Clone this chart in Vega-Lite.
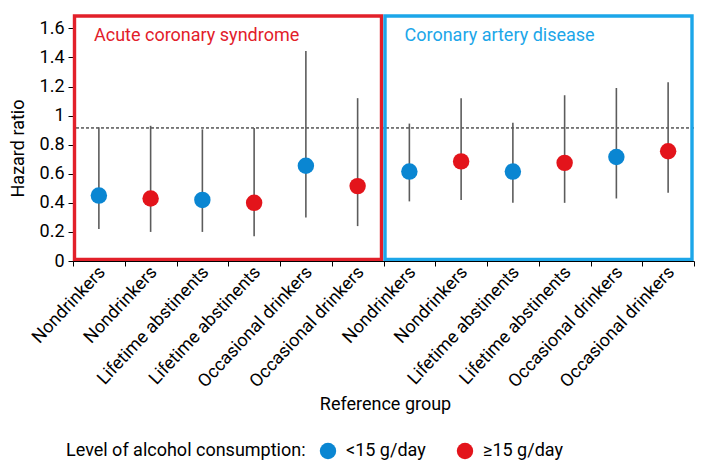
{
  "$schema": "https://vega.github.io/schema/vega-lite/v6.json",
  "width": 621,
  "height": 245,
  "autosize": {"type": "none"},
  "padding": {"left": 73, "top": 16, "right": 9, "bottom": 202},
  "config": {
    "font": "Roboto",
    "view": {"stroke": null},
    "axis": {
      "grid": false,
      "domainColor": "#000000",
      "tickColor": "#000000",
      "labelColor": "#000000",
      "titleColor": "#000000",
      "titleFontWeight": "normal",
      "labelFontSize": 18,
      "titleFontSize": 18
    },
    "legend": {
      "labelColor": "#000000",
      "titleColor": "#000000",
      "titleFontWeight": "normal"
    }
  },
  "datasets": {
    "estimates": [
      {"key": "ACS|Nondrinkers|1", "panel": "Acute coronary syndrome", "level": "<15 g/day", "hr": 0.45, "lo": 0.22, "hi": 0.92},
      {"key": "ACS|Nondrinkers|2", "panel": "Acute coronary syndrome", "level": "≥15 g/day", "hr": 0.43, "lo": 0.20, "hi": 0.93},
      {"key": "ACS|Lifetime abstinents|1", "panel": "Acute coronary syndrome", "level": "<15 g/day", "hr": 0.42, "lo": 0.20, "hi": 0.905},
      {"key": "ACS|Lifetime abstinents|2", "panel": "Acute coronary syndrome", "level": "≥15 g/day", "hr": 0.40, "lo": 0.17, "hi": 0.915},
      {"key": "ACS|Occasional drinkers|1", "panel": "Acute coronary syndrome", "level": "<15 g/day", "hr": 0.655, "lo": 0.30, "hi": 1.445},
      {"key": "ACS|Occasional drinkers|2", "panel": "Acute coronary syndrome", "level": "≥15 g/day", "hr": 0.515, "lo": 0.24, "hi": 1.12},
      {"key": "CAD|Nondrinkers|1", "panel": "Coronary artery disease", "level": "<15 g/day", "hr": 0.615, "lo": 0.41, "hi": 0.945},
      {"key": "CAD|Nondrinkers|2", "panel": "Coronary artery disease", "level": "≥15 g/day", "hr": 0.685, "lo": 0.42, "hi": 1.12},
      {"key": "CAD|Lifetime abstinents|1", "panel": "Coronary artery disease", "level": "<15 g/day", "hr": 0.615, "lo": 0.40, "hi": 0.95},
      {"key": "CAD|Lifetime abstinents|2", "panel": "Coronary artery disease", "level": "≥15 g/day", "hr": 0.675, "lo": 0.40, "hi": 1.14},
      {"key": "CAD|Occasional drinkers|1", "panel": "Coronary artery disease", "level": "<15 g/day", "hr": 0.715, "lo": 0.43, "hi": 1.19},
      {"key": "CAD|Occasional drinkers|2", "panel": "Coronary artery disease", "level": "≥15 g/day", "hr": 0.755, "lo": 0.47, "hi": 1.23}
    ],
    "panels": [
      {"panel": "Acute coronary syndrome", "start": "ACS|Nondrinkers|1", "end": "ACS|Occasional drinkers|2", "bottom": 0, "top": 1.685},
      {"panel": "Coronary artery disease", "start": "CAD|Nondrinkers|1", "end": "CAD|Occasional drinkers|2", "bottom": 0, "top": 1.685}
    ],
    "reference": [
      {"ref": 0.915}
    ]
  },
  "encoding": {
    "y": {
      "type": "quantitative",
      "scale": {"domain": [0, 1.685], "nice": false, "zero": true},
      "axis": {
        "title": "Hazard ratio",
        "values": [0, 0.2, 0.4, 0.6, 0.8, 1, 1.2, 1.4, 1.6],
        "format": ".1~f",
        "tickSize": 5,
        "labelPadding": 4,
        "titleX": -55,
        "titleY": 132,
        "titleAlign": "center",
        "titleBaseline": "middle",
        "titleAngle": -90
      }
    }
  },
  "layer": [
    {
      "data": {"name": "reference"},
      "mark": {"type": "rule", "color": "#000000", "strokeWidth": 1, "strokeDash": [3, 2]},
      "encoding": {
        "y": {"field": "ref", "type": "quantitative"}
      }
    },
    {
      "data": {"name": "panels"},
      "mark": {"type": "rect", "fill": null, "fillOpacity": 0, "strokeWidth": 3.4, "xOffset": 1.5, "x2Offset": -2, "yOffset": -1.5},
      "encoding": {
        "x": {
          "field": "start",
          "type": "nominal",
          "bandPosition": 0,
          "scale": {
            "type": "band",
            "paddingInner": 0,
            "paddingOuter": 0,
            "domain": [
              "ACS|Nondrinkers|1", "ACS|Nondrinkers|2",
              "ACS|Lifetime abstinents|1", "ACS|Lifetime abstinents|2",
              "ACS|Occasional drinkers|1", "ACS|Occasional drinkers|2",
              "CAD|Nondrinkers|1", "CAD|Nondrinkers|2",
              "CAD|Lifetime abstinents|1", "CAD|Lifetime abstinents|2",
              "CAD|Occasional drinkers|1", "CAD|Occasional drinkers|2"
            ]
          },
          "axis": {
            "title": "Reference group",
            "labelExpr": "split(datum.value, '|')[1]",
            "labelAngle": -47,
            "labelFontSize": 18,
            "labelOffset": 3,
            "tickBand": "extent",
            "tickSize": 5,
            "labelPadding": 3,
            "titleX": 312,
            "titleY": 143,
            "titleBaseline": "middle"
          }
        },
        "x2": {"field": "end", "bandPosition": 1},
        "y": {"field": "bottom", "type": "quantitative"},
        "y2": {"field": "top"},
        "stroke": {
          "field": "panel",
          "type": "nominal",
          "scale": {"domain": ["Acute coronary syndrome", "Coronary artery disease"], "range": ["#e2202a", "#1ca6e9"]},
          "legend": null
        }
      }
    },
    {
      "data": {"name": "panels"},
      "mark": {"type": "text", "align": "left", "baseline": "top", "dx": 21, "dy": 11, "fontSize": 18},
      "encoding": {
        "x": {"field": "start", "type": "nominal", "bandPosition": 0},
        "y": {"field": "top", "type": "quantitative"},
        "text": {"field": "panel"},
        "color": {
          "field": "panel",
          "type": "nominal",
          "scale": {"domain": ["Acute coronary syndrome", "Coronary artery disease"], "range": ["#e2202a", "#1ca6e9"]},
          "legend": null
        }
      }
    },
    {
      "data": {"name": "estimates"},
      "layer": [
        {
          "mark": {"type": "rule", "color": "#5c5c5c", "strokeWidth": 1.6},
          "encoding": {
            "x": {"field": "key", "type": "nominal"},
            "y": {"field": "lo", "type": "quantitative"},
            "y2": {"field": "hi"}
          }
        },
        {
          "mark": {"type": "point", "shape": "circle", "filled": true, "opacity": 1, "size": 270},
          "encoding": {
            "x": {"field": "key", "type": "nominal"},
            "y": {"field": "hr", "type": "quantitative"},
            "fill": {
              "field": "level",
              "type": "nominal",
              "scale": {"domain": ["<15 g/day", "≥15 g/day"], "range": ["#0a86d2", "#e3141b"]},
              "legend": {
                "title": "Level of alcohol consumption:",
                "orient": "none",
                "direction": "horizontal",
                "legendX": -7,
                "legendY": 426,
                "titleOrient": "left",
                "titleFontSize": 18,
                "titleBaseline": "middle",
                "titleLimit": 400,
                "titlePadding": 13,
                "labelFontSize": 18,
                "labelLimit": 200,
                "labelOffset": 9,
                "columnPadding": 30,
                "symbolType": "circle",
                "symbolSize": 270,
                "symbolStrokeWidth": 0,
                "symbolOpacity": 1
              }
            }
          }
        }
      ]
    }
  ],
  "resolve": {"scale": {"color": "independent", "stroke": "independent"}}
}
